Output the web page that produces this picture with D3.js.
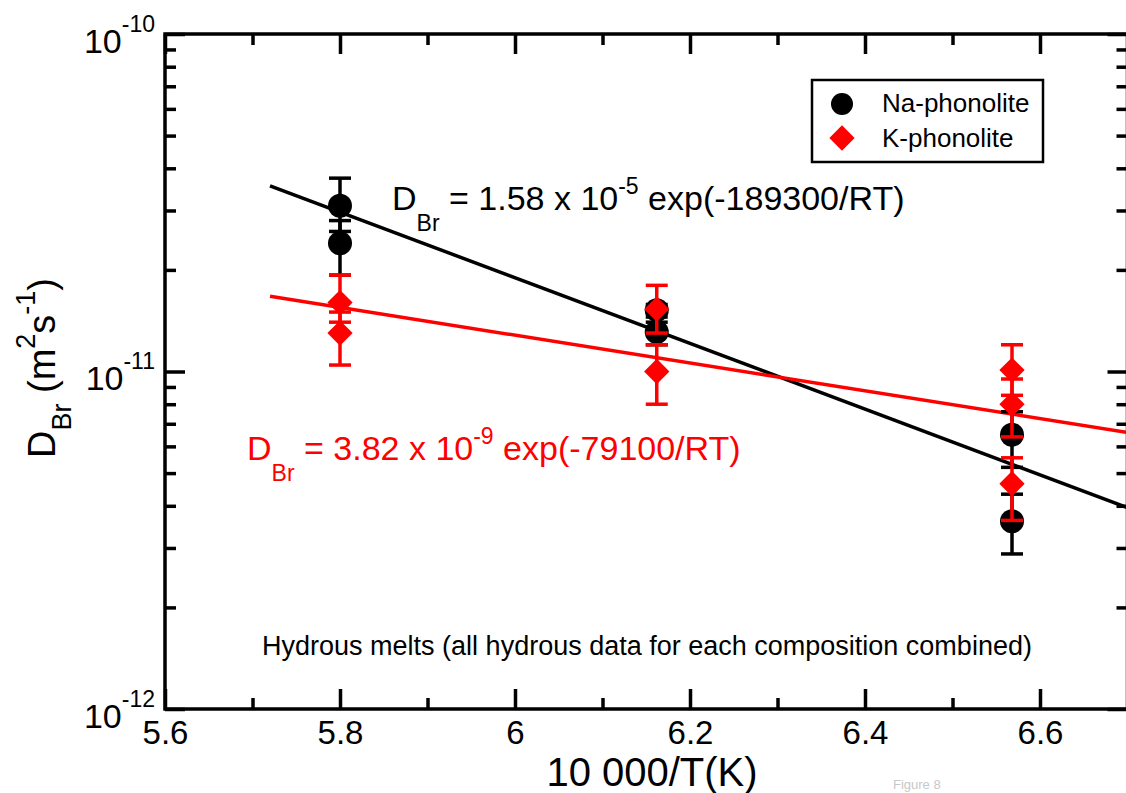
<!DOCTYPE html>
<html>
<head>
<meta charset="utf-8">
<script src="https://cdn.jsdelivr.net/npm/d3@7/dist/d3.min.js"></script>
<style>
  html, body { margin: 0; padding: 0; background: #fff; }
  svg { display: block; font-family: "Liberation Sans", Arial, Helvetica, sans-serif; }
</style>
</head>
<body>
<svg id="chart" width="1126" height="793"></svg>
<script>
// Na-phonolite (black circles): 10000/T, D and error bar ends
var naX  = [5.80, 5.80, 6.162, 6.162, 6.568, 6.568];
var naD  = [3.1e-11, 2.4e-11, 1.52e-11, 1.31e-11, 6.5e-12, 3.6e-12];
var naHi = [3.74e-11, 2.8e-11, 1.58e-11, 1.4e-11, 7.6e-12, 4.33e-12];
var naLo = [2.6e-11, 1.93e-11, 1.45e-11, 1.2e-11, 5.2e-12, 2.88e-12];

// K-phonolite (red diamonds)
var kX  = [5.80, 5.80, 6.162, 6.162, 6.568, 6.568, 6.568];
var kD  = [1.6e-11, 1.3e-11, 1.53e-11, 1.0e-11, 1.01e-11, 8.0e-12, 4.65e-12];
var kHi = [1.93e-11, 1.5e-11, 1.8e-11, 1.2e-11, 1.2e-11, 9.5e-12, 5.55e-12];
var kLo = [1.4e-11, 1.045e-11, 1.3e-11, 8.0e-12, 8.5e-12, 6.4e-12, 3.62e-12];

// Arrhenius fit lines (end points)
var naFit = [[5.72, 3.55e-11], [6.70, 3.95e-12]];
var kFit  = [[5.72, 1.67e-11], [6.70, 6.6e-12]];

// ticks
var xMajor = [5.6, 5.8, 6.0, 6.2, 6.4, 6.6];
var xLabels = ['5.6', '5.8', '6', '6.2', '6.4', '6.6'];
var xMinor = [5.7, 5.9, 6.1, 6.3, 6.5];
var yMajor = [1e-12, 1e-11, 1e-10];
var yExp = ['-12', '-11', '-10'];
var yMinor = [2e-12, 3e-12, 4e-12, 5e-12, 6e-12, 7e-12, 8e-12, 9e-12,
              2e-11, 3e-11, 4e-11, 5e-11, 6e-11, 7e-11, 8e-11, 9e-11];

var RED = '#ff0000';
var FONT = '"Liberation Sans", Arial, Helvetica, sans-serif';
var pLeft = 165, pTop = 34, pRight = 1127.5, pBottom = 709;

var svg = d3.select('#chart');

var x = d3.scaleLinear().domain([5.6, 6.7]).range([pLeft, pRight]);
var y = d3.scaleLog().domain([1e-12, 1e-10]).range([pBottom, pTop]);

// axes, ticks pointing inward
function tickAxis(axis, pos, vals, size, fmt) {
  var g = svg.append('g').attr('transform', pos)
    .call(axis.tickValues(vals).tickSizeInner(-size).tickSizeOuter(0).tickFormat(fmt || ''));
  g.select('.domain').remove();
  g.selectAll('.tick line').attr('stroke', '#000').attr('stroke-width', 3.5);
  return g;
}

var xb = tickAxis(d3.axisBottom(x).tickPadding(12), 'translate(0,' + pBottom + ')', xMajor, 20,
  function(d, i) { return xLabels[i]; });
xb.attr('font-size', 33).attr('font-family', FONT);
xb.selectAll('.tick text').attr('fill', '#000');
tickAxis(d3.axisBottom(x), 'translate(0,' + pBottom + ')', xMinor, 11);
tickAxis(d3.axisTop(x), 'translate(0,' + pTop + ')', xMajor, 20);
tickAxis(d3.axisTop(x), 'translate(0,' + pTop + ')', xMinor, 11);

var yl = tickAxis(d3.axisLeft(y), 'translate(' + pLeft + ',0)', yMajor, 20, function() { return ''; });
tickAxis(d3.axisLeft(y), 'translate(' + pLeft + ',0)', yMinor, 11);
tickAxis(d3.axisRight(y), 'translate(' + pRight + ',0)', yMajor, 20);
tickAxis(d3.axisRight(y), 'translate(' + pRight + ',0)', yMinor, 11);

yl.attr('font-family', FONT);
yl.selectAll('.tick text').each(function(d, i) {
  var t = d3.select(this).text(null)
    .attr('x', -10).attr('dy', null).attr('y', 18)
    .attr('text-anchor', 'end').attr('fill', '#000');
  t.append('tspan').attr('font-size', 34).text('10');
  t.append('tspan').attr('font-size', 23).attr('dy', -21).text(yExp[i]);
});

// frame
svg.append('rect')
  .attr('x', pLeft).attr('y', pTop)
  .attr('width', pRight - pLeft).attr('height', pBottom - pTop)
  .attr('fill', 'none').attr('stroke', '#000').attr('stroke-width', 3.5);

// fit lines
var line = d3.line().x(function(d) { return x(d[0]); }).y(function(d) { return y(d[1]); });
svg.append('path').datum(naFit).attr('d', line)
  .attr('fill', 'none').attr('stroke', '#000').attr('stroke-width', 3.5);
svg.append('path').datum(kFit).attr('d', line)
  .attr('fill', 'none').attr('stroke', RED).attr('stroke-width', 3.5);

function errorBars(xs, his, los, color) {
  var g = svg.append('g').attr('stroke', color).attr('stroke-width', 3.5);
  xs.forEach(function(xv, i) {
    var px = x(xv);
    g.append('line').attr('x1', px).attr('x2', px).attr('y1', y(his[i])).attr('y2', y(los[i]));
    [his[i], los[i]].forEach(function(v) {
      g.append('line').attr('x1', px - 11).attr('x2', px + 11).attr('y1', y(v)).attr('y2', y(v));
    });
  });
}

errorBars(naX, naHi, naLo, '#000');
svg.append('g').selectAll('circle').data(naX).join('circle')
  .attr('cx', function(d) { return x(d); })
  .attr('cy', function(d, i) { return y(naD[i]); })
  .attr('r', 12).attr('fill', '#000');

errorBars(kX, kHi, kLo, RED);
var diamond = d3.symbol().type(d3.symbolSquare).size(320);
svg.append('g').selectAll('path').data(kX).join('path')
  .attr('d', diamond)
  .attr('transform', function(d, i) { return 'translate(' + x(d) + ',' + y(kD[i]) + ') rotate(45)'; })
  .attr('fill', RED);

// equations
function equation(xp, yp, color, coef, exp, rest) {
  var t = svg.append('text').attr('x', xp).attr('y', yp).attr('fill', color).attr('font-size', 34);
  t.append('tspan').text('D');
  t.append('tspan').attr('font-size', 23).attr('dy', 21).text('Br');
  t.append('tspan').attr('dy', -21).text(' = ' + coef + ' x 10');
  t.append('tspan').attr('font-size', 23).attr('dy', -16).text(exp);
  t.append('tspan').attr('dy', 16).text(' exp(' + rest + ')');
}
equation(392, 210, '#000', '1.58', '-5', '-189300/RT');
equation(247, 460, RED, '3.82', '-9', '-79100/RT');

// note
svg.append('text').attr('x', 647).attr('y', 655).attr('text-anchor', 'middle')
  .attr('font-size', 27).attr('fill', '#000')
  .text('Hydrous melts (all hydrous data for each composition combined)');

// axis titles
svg.append('text').attr('x', 652).attr('y', 786).attr('text-anchor', 'middle')
  .attr('font-size', 40).attr('fill', '#000').text('10 000/T(K)');

var yt = svg.append('text').attr('transform', 'translate(55,368) rotate(-90)')
  .attr('text-anchor', 'middle').attr('font-size', 38).attr('fill', '#000');
yt.append('tspan').text('D');
yt.append('tspan').attr('font-size', 27).attr('dy', 16).text('Br');
yt.append('tspan').attr('dy', -16).text(' (m');
yt.append('tspan').attr('font-size', 27).attr('dy', -20).text('2');
yt.append('tspan').attr('dy', 20).text('s');
yt.append('tspan').attr('font-size', 27).attr('dy', -20).text('-1');
yt.append('tspan').attr('dy', 20).text(')');

// legend
var lg = svg.append('g');
lg.append('rect').attr('x', 812).attr('y', 80).attr('width', 231).attr('height', 82)
  .attr('fill', '#fff').attr('stroke', '#000').attr('stroke-width', 2.5);
lg.append('circle').attr('cx', 842).attr('cy', 104).attr('r', 11).attr('fill', '#000');
lg.append('path').attr('d', diamond).attr('transform', 'translate(842,138) rotate(45)').attr('fill', RED);
lg.append('text').attr('x', 882).attr('y', 112).attr('font-size', 26).text('Na-phonolite');
lg.append('text').attr('x', 882).attr('y', 147).attr('font-size', 26).text('K-phonolite');

// faint caption near the bottom edge
svg.append('text').attr('x', 893).attr('y', 789).attr('font-size', 13).attr('fill', '#c8c8c8').text('Figure 8');
</script>
</body>
</html>
